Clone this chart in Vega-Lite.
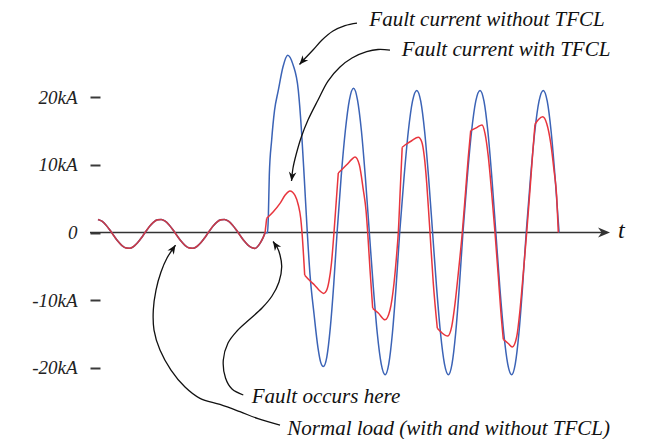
{
  "$schema": "https://vega.github.io/schema/vega-lite/v6.json",
  "width": 506,
  "height": 379,
  "autosize": "none",
  "padding": {"left": 98, "top": 43, "right": 49, "bottom": 17},
  "background": "white",
  "config": {"view": {"stroke": null}, "font": "Liberation Serif"},
  "datasets": {
    "wave": [
      {"s": "load", "g": "r0", "t": 0, "i": 1.93},
      {"s": "load", "g": "r0", "t": 1.25, "i": 1.67},
      {"s": "load", "g": "r0", "t": 2.5, "i": 1.12},
      {"s": "load", "g": "r0", "t": 3.75, "i": 0.37},
      {"s": "load", "g": "r0", "t": 5, "i": -0.47},
      {"s": "load", "g": "r0", "t": 6.25, "i": -1.27},
      {"s": "load", "g": "r0", "t": 7.5, "i": -1.9},
      {"s": "load", "g": "r0", "t": 8.75, "i": -2.27},
      {"s": "load", "g": "r0", "t": 10, "i": -2.33},
      {"s": "load", "g": "r0", "t": 11.25, "i": -2.07},
      {"s": "load", "g": "r0", "t": 12.5, "i": -1.52},
      {"s": "load", "g": "r0", "t": 13.75, "i": -0.77},
      {"s": "load", "g": "r0", "t": 15, "i": 0.07},
      {"s": "load", "g": "r0", "t": 16.25, "i": 0.87},
      {"s": "load", "g": "r0", "t": 17.5, "i": 1.5},
      {"s": "load", "g": "r0", "t": 18.75, "i": 1.87},
      {"s": "load", "g": "r0", "t": 20, "i": 1.93},
      {"s": "load", "g": "r0", "t": 21.25, "i": 1.67},
      {"s": "load", "g": "r0", "t": 22.5, "i": 1.12},
      {"s": "load", "g": "r0", "t": 23.75, "i": 0.37},
      {"s": "load", "g": "r0", "t": 25, "i": -0.47},
      {"s": "load", "g": "r0", "t": 26.25, "i": -1.27},
      {"s": "load", "g": "r0", "t": 27.5, "i": -1.9},
      {"s": "load", "g": "r0", "t": 28.75, "i": -2.27},
      {"s": "load", "g": "r0", "t": 30, "i": -2.33},
      {"s": "load", "g": "r0", "t": 31.25, "i": -2.07},
      {"s": "load", "g": "r0", "t": 32.5, "i": -1.52},
      {"s": "load", "g": "r0", "t": 33.75, "i": -0.77},
      {"s": "load", "g": "r0", "t": 35, "i": 0.07},
      {"s": "load", "g": "r0", "t": 36.25, "i": 0.87},
      {"s": "load", "g": "r0", "t": 37.5, "i": 1.5},
      {"s": "load", "g": "r0", "t": 38.75, "i": 1.87},
      {"s": "load", "g": "r0", "t": 40, "i": 1.93},
      {"s": "load", "g": "r0", "t": 41.25, "i": 1.67},
      {"s": "load", "g": "r0", "t": 42.5, "i": 1.12},
      {"s": "load", "g": "r0", "t": 43.75, "i": 0.37},
      {"s": "load", "g": "r0", "t": 45, "i": -0.47},
      {"s": "load", "g": "r0", "t": 46.25, "i": -1.27},
      {"s": "load", "g": "r0", "t": 47.5, "i": -1.9},
      {"s": "load", "g": "r0", "t": 48.75, "i": -2.27},
      {"s": "load", "g": "r0", "t": 49.6, "i": -2.35},
      {"s": "load", "g": "r0", "t": 51.23, "i": -1.6},
      {"s": "load", "g": "r0", "t": 52.17, "i": -0.8},
      {"s": "load", "g": "r0", "t": 52.81, "i": -0.1},

      {"s": "blue", "g": "b", "t": 53.6, "i": 0},
      {"s": "blue", "g": "b", "t": 53.85, "i": 2.1},
      {"s": "blue", "g": "b", "t": 54.17, "i": 8.5},
      {"s": "blue", "g": "b", "t": 54.92, "i": 13.7},
      {"s": "blue", "g": "b", "t": 55.81, "i": 18.0},
      {"s": "blue", "g": "b", "t": 57.01, "i": 21.0},
      {"s": "blue", "g": "b", "t": 58.5, "i": 24.5},
      {"s": "blue", "g": "b", "t": 59.98, "i": 26.2},
      {"s": "blue", "g": "b", "t": 61.66, "i": 24.8},
      {"s": "blue", "g": "b", "t": 63.34, "i": 21.0},
      {"s": "blue", "g": "b", "t": 64.35, "i": 15.0},
      {"s": "blue", "g": "b", "t": 65.23, "i": 8.0},
      {"s": "blue", "g": "b", "t": 66.18, "i": 0},
      {"s": "blue", "g": "b", "t": 67.05, "i": -6.3},
      {"s": "blue", "g": "b", "t": 68.3, "i": -12.0},
      {"s": "blue", "g": "b", "t": 69.55, "i": -17.0},
      {"s": "blue", "g": "b", "t": 70.5, "i": -19.3},
      {"s": "blue", "g": "b", "t": 71.24, "i": -19.8},
      {"s": "blue", "g": "b", "t": 72.35, "i": -18.4},
      {"s": "blue", "g": "b", "t": 73.45, "i": -14.1},
      {"s": "blue", "g": "b", "t": 74.55, "i": -7.6},
      {"s": "blue", "g": "b", "t": 75.6, "i": 0},
      {"s": "blue", "g": "b", "t": 76.9, "i": 8.3},
      {"s": "blue", "g": "b", "t": 78.2, "i": 15.0},
      {"s": "blue", "g": "b", "t": 79.5, "i": 19.6},
      {"s": "blue", "g": "b", "t": 80.8, "i": 21.3},
      {"s": "blue", "g": "b", "t": 82.05, "i": 19.6},
      {"s": "blue", "g": "b", "t": 83.3, "i": 15.0},
      {"s": "blue", "g": "b", "t": 84.55, "i": 8.1},
      {"s": "blue", "g": "b", "t": 85.8, "i": 0},
      {"s": "blue", "g": "b", "t": 87.05, "i": -8.04},
      {"s": "blue", "g": "b", "t": 88.3, "i": -14.85},
      {"s": "blue", "g": "b", "t": 89.55, "i": -19.4},
      {"s": "blue", "g": "b", "t": 90.8, "i": -21.0},
      {"s": "blue", "g": "b", "t": 91.95, "i": -19.4},
      {"s": "blue", "g": "b", "t": 93.1, "i": -14.85},
      {"s": "blue", "g": "b", "t": 94.25, "i": -8.04},
      {"s": "blue", "g": "b", "t": 95.4, "i": 0},
      {"s": "blue", "g": "b", "t": 96.75, "i": 8.04},
      {"s": "blue", "g": "b", "t": 98.1, "i": 14.85},
      {"s": "blue", "g": "b", "t": 99.45, "i": 19.4},
      {"s": "blue", "g": "b", "t": 100.8, "i": 21.0},
      {"s": "blue", "g": "b", "t": 102.05, "i": 19.4},
      {"s": "blue", "g": "b", "t": 103.3, "i": 14.85},
      {"s": "blue", "g": "b", "t": 104.55, "i": 8.04},
      {"s": "blue", "g": "b", "t": 105.8, "i": 0},
      {"s": "blue", "g": "b", "t": 107.05, "i": -8.04},
      {"s": "blue", "g": "b", "t": 108.3, "i": -14.85},
      {"s": "blue", "g": "b", "t": 109.55, "i": -19.4},
      {"s": "blue", "g": "b", "t": 110.8, "i": -21.0},
      {"s": "blue", "g": "b", "t": 111.95, "i": -19.4},
      {"s": "blue", "g": "b", "t": 113.1, "i": -14.85},
      {"s": "blue", "g": "b", "t": 114.25, "i": -8.04},
      {"s": "blue", "g": "b", "t": 115.4, "i": 0},
      {"s": "blue", "g": "b", "t": 116.75, "i": 8.04},
      {"s": "blue", "g": "b", "t": 118.1, "i": 14.85},
      {"s": "blue", "g": "b", "t": 119.45, "i": 19.4},
      {"s": "blue", "g": "b", "t": 120.8, "i": 21.0},
      {"s": "blue", "g": "b", "t": 122.05, "i": 19.4},
      {"s": "blue", "g": "b", "t": 123.3, "i": 14.85},
      {"s": "blue", "g": "b", "t": 124.55, "i": 8.04},
      {"s": "blue", "g": "b", "t": 125.8, "i": 0},
      {"s": "blue", "g": "b", "t": 127.05, "i": -8.04},
      {"s": "blue", "g": "b", "t": 128.3, "i": -14.85},
      {"s": "blue", "g": "b", "t": 129.55, "i": -19.4},
      {"s": "blue", "g": "b", "t": 130.8, "i": -21.0},
      {"s": "blue", "g": "b", "t": 131.95, "i": -19.4},
      {"s": "blue", "g": "b", "t": 133.1, "i": -14.85},
      {"s": "blue", "g": "b", "t": 134.25, "i": -8.04},
      {"s": "blue", "g": "b", "t": 135.4, "i": 0},
      {"s": "blue", "g": "b", "t": 136.75, "i": 8.04},
      {"s": "blue", "g": "b", "t": 138.1, "i": 14.85},
      {"s": "blue", "g": "b", "t": 139.45, "i": 19.4},
      {"s": "blue", "g": "b", "t": 140.8, "i": 21.0},
      {"s": "blue", "g": "b", "t": 142.05, "i": 19.4},
      {"s": "blue", "g": "b", "t": 143.3, "i": 14.85},
      {"s": "blue", "g": "b", "t": 144.55, "i": 8.04},
      {"s": "blue", "g": "b", "t": 145.8, "i": 0},

      {"s": "red", "g": "r0", "t": 52.81, "i": -0.1},
      {"s": "red", "g": "r0", "t": 53.34, "i": 2.1},

      {"s": "red", "g": "r1", "t": 53.34, "i": 2.1},
      {"s": "red", "g": "r1", "t": 55.43, "i": 3.07},
      {"s": "red", "g": "r1", "t": 57.55, "i": 4.3},
      {"s": "red", "g": "r1", "t": 59.13, "i": 5.5},
      {"s": "red", "g": "r1", "t": 60.71, "i": 6.15},
      {"s": "red", "g": "r1", "t": 62.29, "i": 5.5},
      {"s": "red", "g": "r1", "t": 63.34, "i": 4.06},
      {"s": "red", "g": "r1", "t": 64.1, "i": 2.1},
      {"s": "red", "g": "r1", "t": 64.51, "i": 0},
      {"s": "red", "g": "r1", "t": 65.36, "i": -6.3},

      {"s": "red", "g": "r2", "t": 65.36, "i": -6.3},
      {"s": "red", "g": "r2", "t": 66.94, "i": -7.1},
      {"s": "red", "g": "r2", "t": 68.52, "i": -7.8},
      {"s": "red", "g": "r2", "t": 70.1, "i": -8.6},
      {"s": "red", "g": "r2", "t": 71.37, "i": -9.0},
      {"s": "red", "g": "r2", "t": 72.25, "i": -8.6},
      {"s": "red", "g": "r2", "t": 73.04, "i": -7.2},
      {"s": "red", "g": "r2", "t": 73.83, "i": -4.5},
      {"s": "red", "g": "r2", "t": 74.62, "i": 0},
      {"s": "red", "g": "r2", "t": 75.32, "i": 4.5},
      {"s": "red", "g": "r2", "t": 75.98, "i": 8.8},

      {"s": "red", "g": "r3", "t": 75.98, "i": 8.8},
      {"s": "red", "g": "r3", "t": 78.64, "i": 10.0},
      {"s": "red", "g": "r3", "t": 80.22, "i": 10.8},
      {"s": "red", "g": "r3", "t": 81.27, "i": 11.15},
      {"s": "red", "g": "r3", "t": 82.63, "i": 10.0},
      {"s": "red", "g": "r3", "t": 83.89, "i": 6.3},
      {"s": "red", "g": "r3", "t": 84.74, "i": 3.3},
      {"s": "red", "g": "r3", "t": 85.28, "i": 0},
      {"s": "red", "g": "r3", "t": 86.01, "i": -5.5},
      {"s": "red", "g": "r3", "t": 86.86, "i": -11.2},

      {"s": "red", "g": "r4", "t": 86.86, "i": -11.2},
      {"s": "red", "g": "r4", "t": 88.63, "i": -11.9},
      {"s": "red", "g": "r4", "t": 90.75, "i": -12.9},
      {"s": "red", "g": "r4", "t": 92.33, "i": -11.45},
      {"s": "red", "g": "r4", "t": 93.6, "i": -7.5},
      {"s": "red", "g": "r4", "t": 94.55, "i": -2.6},
      {"s": "red", "g": "r4", "t": 94.96, "i": 0},
      {"s": "red", "g": "r4", "t": 95.59, "i": 6.5},
      {"s": "red", "g": "r4", "t": 96.19, "i": 12.6},

      {"s": "red", "g": "r5", "t": 96.19, "i": 12.6},
      {"s": "red", "g": "r5", "t": 97.08, "i": 12.93},
      {"s": "red", "g": "r5", "t": 99.19, "i": 13.56},
      {"s": "red", "g": "r5", "t": 101.28, "i": 14.07},
      {"s": "red", "g": "r5", "t": 102.36, "i": 13.4},
      {"s": "red", "g": "r5", "t": 103.18, "i": 11.2},
      {"s": "red", "g": "r5", "t": 103.94, "i": 7.3},
      {"s": "red", "g": "r5", "t": 104.66, "i": 2.3},
      {"s": "red", "g": "r5", "t": 104.98, "i": 0},
      {"s": "red", "g": "r5", "t": 106.02, "i": -7.5},
      {"s": "red", "g": "r5", "t": 107.29, "i": -14.15},

      {"s": "red", "g": "r6", "t": 107.29, "i": -14.15},
      {"s": "red", "g": "r6", "t": 108.68, "i": -14.8},
      {"s": "red", "g": "r6", "t": 110.58, "i": -15.3},
      {"s": "red", "g": "r6", "t": 111.84, "i": -13.9},
      {"s": "red", "g": "r6", "t": 112.89, "i": -10.5},
      {"s": "red", "g": "r6", "t": 113.93, "i": -6.0},
      {"s": "red", "g": "r6", "t": 115.19, "i": 0},
      {"s": "red", "g": "r6", "t": 116.27, "i": 6.3},
      {"s": "red", "g": "r6", "t": 117.09, "i": 11.2},
      {"s": "red", "g": "r6", "t": 117.85, "i": 15.05},

      {"s": "red", "g": "r7", "t": 117.85, "i": 15.05},
      {"s": "red", "g": "r7", "t": 119.75, "i": 15.5},
      {"s": "red", "g": "r7", "t": 121.42, "i": 15.9},
      {"s": "red", "g": "r7", "t": 122.37, "i": 14.66},
      {"s": "red", "g": "r7", "t": 123.42, "i": 11.2},
      {"s": "red", "g": "r7", "t": 124.49, "i": 5.8},
      {"s": "red", "g": "r7", "t": 125.53, "i": 0},
      {"s": "red", "g": "r7", "t": 126.58, "i": -6.5},
      {"s": "red", "g": "r7", "t": 127.34, "i": -11.45},
      {"s": "red", "g": "r7", "t": 128.16, "i": -15.8},

      {"s": "red", "g": "r8", "t": 128.16, "i": -15.8},
      {"s": "red", "g": "r8", "t": 129.74, "i": -16.4},
      {"s": "red", "g": "r8", "t": 131.01, "i": -16.9},
      {"s": "red", "g": "r8", "t": 132.4, "i": -15.4},
      {"s": "red", "g": "r8", "t": 133.44, "i": -11.45},
      {"s": "red", "g": "r8", "t": 134.48, "i": -6.0},
      {"s": "red", "g": "r8", "t": 135.56, "i": 0},
      {"s": "red", "g": "r8", "t": 136.6, "i": 6.3},
      {"s": "red", "g": "r8", "t": 137.45, "i": 11.7},
      {"s": "red", "g": "r8", "t": 138.18, "i": 16.0},

      {"s": "red", "g": "r9", "t": 138.18, "i": 16.0},
      {"s": "red", "g": "r9", "t": 139.29, "i": 16.7},
      {"s": "red", "g": "r9", "t": 140.62, "i": 17.1},
      {"s": "red", "g": "r9", "t": 141.88, "i": 16.1},
      {"s": "red", "g": "r9", "t": 143.15, "i": 13.2},
      {"s": "red", "g": "r9", "t": 144.19, "i": 9.2},
      {"s": "red", "g": "r9", "t": 145.04, "i": 5.3},
      {"s": "red", "g": "r9", "t": 145.55, "i": 0}
    ],
    "leaders": [
      {"id": "A", "k": 0, "t": 81.9, "i": 30.95},
      {"id": "A", "k": 1, "t": 78.1, "i": 30.58},
      {"id": "A", "k": 2, "t": 74.31, "i": 29.77},
      {"id": "A", "k": 3, "t": 70.83, "i": 28.44},
      {"id": "A", "k": 4, "t": 67.98, "i": 26.96},
      {"id": "A", "k": 5, "t": 64.82, "i": 25.41},
      {"id": "A", "k": 6, "t": 63.72, "i": 24.82},

      {"id": "B", "k": 0, "t": 92.33, "i": 26.96},
      {"id": "B", "k": 1, "t": 88.54, "i": 27.04},
      {"id": "B", "k": 2, "t": 84.96, "i": 26.71},
      {"id": "B", "k": 3, "t": 80.32, "i": 25.78},
      {"id": "B", "k": 4, "t": 76.52, "i": 24.45},
      {"id": "B", "k": 5, "t": 72.73, "i": 22.38},
      {"id": "B", "k": 6, "t": 69.57, "i": 19.58},
      {"id": "B", "k": 7, "t": 66.4, "i": 16.62},
      {"id": "B", "k": 8, "t": 64.29, "i": 14.11},
      {"id": "B", "k": 9, "t": 62.61, "i": 11.45},
      {"id": "B", "k": 10, "t": 61.66, "i": 9.53},
      {"id": "B", "k": 11, "t": 61.19, "i": 7.61},

      {"id": "C", "k": 0, "t": 45.94, "i": -24.01},
      {"id": "C", "k": 1, "t": 42.37, "i": -23.12},
      {"id": "C", "k": 2, "t": 40.32, "i": -21.5},
      {"id": "C", "k": 3, "t": 39.62, "i": -18.84},
      {"id": "C", "k": 4, "t": 41.11, "i": -16.33},
      {"id": "C", "k": 5, "t": 43.95, "i": -14.55},
      {"id": "C", "k": 6, "t": 48.06, "i": -12.78},
      {"id": "C", "k": 7, "t": 51.86, "i": -11.16},
      {"id": "C", "k": 8, "t": 55.02, "i": -9.38},
      {"id": "C", "k": 9, "t": 57.23, "i": -7.31},
      {"id": "C", "k": 10, "t": 58.09, "i": -5.05},
      {"id": "C", "k": 11, "t": 57.55, "i": -3.32},
      {"id": "C", "k": 12, "t": 56.6, "i": -2.14},
      {"id": "C", "k": 13, "t": 55.34, "i": -1.33},

      {"id": "D", "k": 0, "t": 57.55, "i": -28.45},
      {"id": "D", "k": 1, "t": 50.59, "i": -27.5},
      {"id": "D", "k": 2, "t": 44.9, "i": -26.48},
      {"id": "D", "k": 3, "t": 38.58, "i": -25.41},
      {"id": "D", "k": 4, "t": 32.25, "i": -24.5},
      {"id": "D", "k": 5, "t": 27.51, "i": -22.83},
      {"id": "D", "k": 6, "t": 23.08, "i": -20.32},
      {"id": "D", "k": 7, "t": 19.6, "i": -17.36},
      {"id": "D", "k": 8, "t": 17.71, "i": -14.41},
      {"id": "D", "k": 9, "t": 17.49, "i": -11.45},
      {"id": "D", "k": 10, "t": 18.34, "i": -8.5},
      {"id": "D", "k": 11, "t": 19.92, "i": -5.84},
      {"id": "D", "k": 12, "t": 21.82, "i": -3.77},
      {"id": "D", "k": 13, "t": 24.51, "i": -1.85}
    ],
    "notes": [
      {"label": "Fault current without TFCL", "t": 85.79, "i": 30.51},
      {"label": "Fault current with TFCL", "t": 96.03, "i": 26.15},
      {"label": "Fault occurs here", "t": 48.6, "i": -25.19},
      {"label": "Normal load (with and without TFCL)", "t": 59.86, "i": -29.9}
    ]
  },
  "encoding": {
    "x": {"field": "t", "type": "quantitative", "scale": {"domain": [0, 160]}, "axis": null},
    "y": {
      "field": "i",
      "type": "quantitative",
      "scale": {"domain": [-28, 28]},
      "axis": {
        "values": [-20, -10, 0, 10, 20],
        "title": null,
        "domain": false,
        "grid": false,
        "offset": -2,
        "tickSize": 10,
        "tickWidth": 2,
        "tickColor": "#3a3a3a",
        "labelFont": "Liberation Serif",
        "labelFontStyle": "italic",
        "labelFontSize": 19,
        "labelColor": "#222222",
        "labelPadding": 13,
        "labelOverlap": false,
        "labelFlush": false,
        "labelExpr": "datum.value === 0 ? '0' : datum.value + 'kA'"
      }
    }
  },
  "layer": [
    {
      "description": "time axis line",
      "data": {"values": [{"t": -2.53, "i": 0}, {"t": 160.5, "i": 0}]},
      "mark": {"type": "line", "color": "#333333", "strokeWidth": 1.7}
    },
    {
      "description": "time axis arrowhead",
      "data": {"values": [{"t": 161.9, "i": 0}]},
      "mark": {"type": "point", "shape": "M0,0L-1,-0.42L-0.7,0L-1,0.42Z", "filled": true, "color": "#333333", "opacity": 1, "size": 576, "angle": 0}
    },
    {
      "data": {"values": [{"name": "t", "t": 164.43, "i": -0.86}]},
      "mark": {"type": "text", "align": "left", "baseline": "alphabetic", "font": "Liberation Serif", "fontStyle": "italic", "fontSize": 24, "color": "#111111"},
      "encoding": {"text": {"field": "name"}}
    },
    {
      "description": "fault current without TFCL (follows the load current before the fault)",
      "data": {"name": "wave"},
      "transform": [{"filter": "datum.s !== 'red'"}],
      "mark": {"type": "line", "interpolate": "monotone", "color": "#3b63b6", "strokeWidth": 1.5}
    },
    {
      "description": "normal load current, shared by both cases",
      "data": {"name": "wave"},
      "transform": [{"filter": "datum.s === 'load'"}],
      "mark": {"type": "line", "interpolate": "monotone", "color": "#c93a46", "strokeWidth": 1.6}
    },
    {
      "description": "fault current with TFCL",
      "data": {"name": "wave"},
      "transform": [{"filter": "datum.s === 'red'"}],
      "mark": {"type": "line", "interpolate": "monotone", "color": "#e8353d", "strokeWidth": 1.5},
      "encoding": {"detail": {"field": "g"}}
    },
    {
      "description": "annotation leaders",
      "data": {"name": "leaders"},
      "mark": {"type": "line", "interpolate": "catmull-rom", "color": "#111111", "strokeWidth": 1.3},
      "encoding": {"detail": {"field": "id"}, "order": {"field": "k", "type": "quantitative"}}
    },
    {
      "data": {"name": "leaders"},
      "transform": [{"filter": "datum.id === 'A' && datum.k === 6"}],
      "mark": {"type": "point", "shape": "M0,0L-1,-0.42L-0.7,0L-1,0.42Z", "filled": true, "color": "#111111", "opacity": 1, "size": 324, "angle": 131}
    },
    {
      "data": {"name": "leaders"},
      "transform": [{"filter": "datum.id === 'B' && datum.k === 11"}],
      "mark": {"type": "point", "shape": "M0,0L-1,-0.42L-0.7,0L-1,0.42Z", "filled": true, "color": "#111111", "opacity": 1, "size": 324, "angle": 97}
    },
    {
      "data": {"name": "leaders"},
      "transform": [{"filter": "datum.id === 'C' && datum.k === 13"}],
      "mark": {"type": "point", "shape": "M0,0L-1,-0.42L-0.7,0L-1,0.42Z", "filled": true, "color": "#111111", "opacity": 1, "size": 324, "angle": 236}
    },
    {
      "data": {"name": "leaders"},
      "transform": [{"filter": "datum.id === 'D' && datum.k === 13"}],
      "mark": {"type": "point", "shape": "M0,0L-1,-0.42L-0.7,0L-1,0.42Z", "filled": true, "color": "#111111", "opacity": 1, "size": 324, "angle": 303}
    },
    {
      "data": {"name": "notes"},
      "mark": {"type": "text", "align": "left", "baseline": "alphabetic", "font": "Liberation Serif", "fontStyle": "italic", "fontSize": 21, "color": "#111111"},
      "encoding": {"text": {"field": "label"}}
    }
  ]
}
